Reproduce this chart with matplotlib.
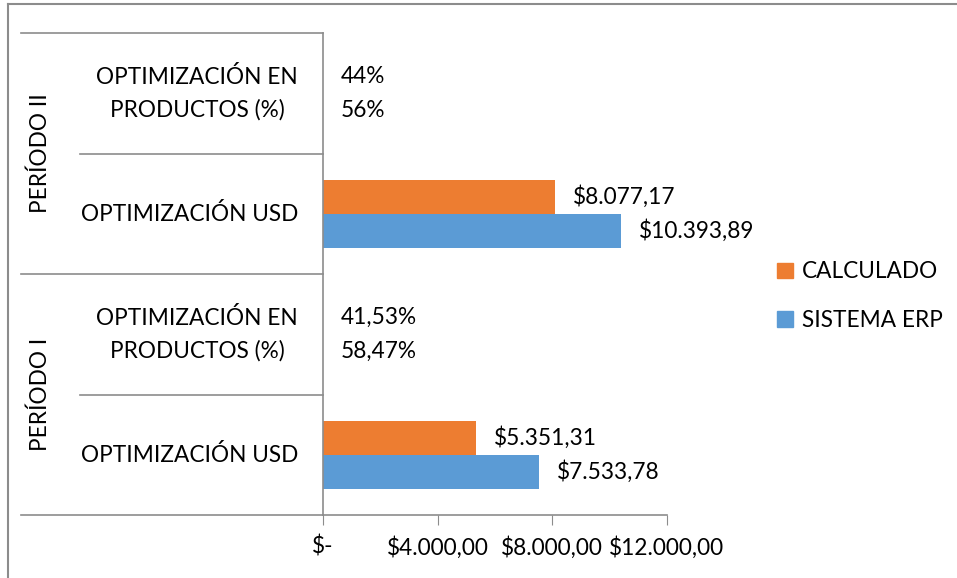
import matplotlib.pyplot as plt
from matplotlib.lines import Line2D
from matplotlib.patches import Patch

plt.rcParams['font.family'] = ['Lato', 'DejaVu Sans']

# datos del gráfico (de abajo hacia arriba)
periodos = ['PERÍODO I', 'PERÍODO II']
categorias = ['OPTIMIZACIÓN USD', 'OPTIMIZACIÓN EN\nPRODUCTOS (%)']
series = ['CALCULADO', 'SISTEMA ERP']
calculado = [5351.31, 0.4153, 8077.17, 0.44]
sistema_erp = [7533.78, 0.5847, 10393.89, 0.56]
es_porcentaje = [False, True, False, True]
ticks_x = [0, 4000, 8000, 12000]

colores = {'CALCULADO': '#ED7D31', 'SISTEMA ERP': '#5B9BD5'}
gris = '#8C8C8C'
FS = 16.3


def fmt_num(v, dec=2):
    s = f'{v:,.{dec}f}'
    return s.replace(',', '#').replace('.', ',').replace('#', '.')


def fmt_usd(v):
    if v == 0:
        return '$-'
    return '$' + fmt_num(v)


def fmt_pct(v):
    p = v * 100
    if abs(p - round(p)) < 1e-9:
        return f'{int(round(p))}%'
    return fmt_num(p) + '%'


fig = plt.figure(figsize=(9.57, 5.78), dpi=100)
W, H = 957, 578
ax = fig.add_axes([323 / W, 63 / H, 344 / W, 482 / H])

n = len(calculado)
ys = [i + 0.5 for i in range(n)]
h = 0.282
ax.barh([y + h / 2 for y in ys], calculado, height=h, color=colores['CALCULADO'])
ax.barh([y - h / 2 for y in ys], sistema_erp, height=h, color=colores['SISTEMA ERP'])

# etiquetas de datos a la derecha de cada barra
off = 12000 * 18 / 344
for y, vc, ve, pct in zip(ys, calculado, sistema_erp, es_porcentaje):
    f = fmt_pct if pct else fmt_usd
    bc = 0 if pct else vc
    be = 0 if pct else ve
    ax.text(bc + off, y + h / 2, f(vc), va='center', ha='left', fontsize=FS)
    ax.text(be + off, y - h / 2, f(ve), va='center', ha='left', fontsize=FS)

ax.set_xlim(0, 12000)
ax.set_ylim(0, n)
ax.set_xticks(ticks_x)
ax.set_xticklabels([fmt_usd(t) for t in ticks_x], fontsize=FS)
ax.tick_params(axis='x', length=7, color=gris, pad=8)
ax.set_yticks([])
for s in ['top', 'right']:
    ax.spines[s].set_visible(False)
for s in ['left', 'bottom']:
    ax.spines[s].set_color(gris)
    ax.spines[s].set_linewidth(1.2)

# eje de categorías en dos niveles
tr = ax.get_yaxis_transform()
x_ext = (21 - 323) / 344
x_int = (80 - 323) / 344
for i in range(n + 1):
    x0 = x_ext if i % 2 == 0 else x_int
    ax.add_line(Line2D([x0, 0], [i, i], transform=tr, color=gris, lw=1.2, clip_on=False))
centros_cat = [190, 197]
for y, i in zip(ys, range(n)):
    ax.text((centros_cat[i % 2] - 323) / 344, y, categorias[i % 2], transform=tr,
            ha='center', va='center', fontsize=FS, linespacing=1.6)
for j, p in enumerate(periodos):
    ax.text((40 - 323) / 344, 2 * j + 1, p, transform=tr, ha='center', va='center',
            rotation=90, fontsize=FS)

handles = [Patch(color=colores[s]) for s in series]
fig.legend(handles, series, loc='upper left', bbox_to_anchor=(757 / W, 1 - 241 / H),
           frameon=False, fontsize=FS, handlelength=0.7, handleheight=0.7,
           handletextpad=0.4, labelspacing=1.2)

# marco del gráfico
fig.add_artist(Line2D([8 / W, 1], [1 - 4 / H, 1 - 4 / H], color=gris, lw=1.5))
fig.add_artist(Line2D([8 / W, 8 / W], [0, 1 - 4 / H], color=gris, lw=1.5))

fig.savefig('out.png', dpi=100)
